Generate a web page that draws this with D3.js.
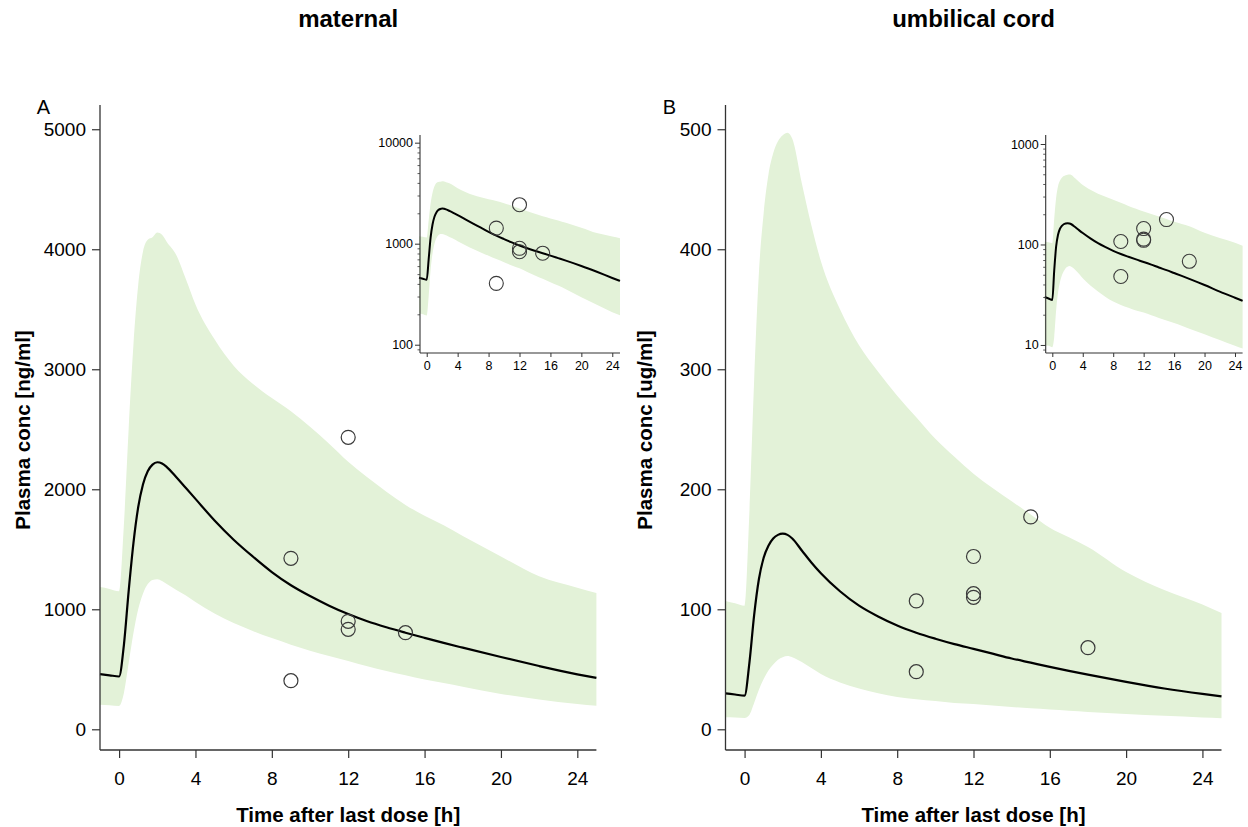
<!DOCTYPE html>
<html><head><meta charset="utf-8">
<script src="https://cdn.jsdelivr.net/npm/d3@7"></script>
<style>
body{margin:0;background:#fff;}
svg{display:block;font-family:"Liberation Sans",Arial,sans-serif;}
</style></head>
<body><svg id="c" width="1248" height="827"></svg>
<script>
// ---- data ----
const timeGrid = [-1,-0.5,0,0.25,0.5,0.75,1,1.25,1.5,1.75,2,2.25,2.5,3,3.5,4,5,6,7,8,9,10,11,12,13,14,15,16,17,18,20,22,24,25];

const medianA = [460,450,440,700,1150,1550,1850,2040,2150,2205,2225,2215,2185,2100,2010,1920,1740,1580,1440,1310,1200,1110,1030,960,900,850,805,762,720,680,602,527,458,428];
const lowerA  = [205,200,195,300,550,800,1000,1130,1210,1245,1250,1235,1210,1160,1115,1060,965,885,820,760,705,655,610,570,525,485,450,415,385,355,295,248,210,196];
const upperA  = [1185,1170,1150,1700,2500,3200,3700,3980,4080,4100,4140,4120,4060,3950,3750,3540,3250,3030,2880,2760,2650,2520,2380,2230,2100,1980,1870,1780,1700,1610,1440,1275,1180,1135];
const obsTimeA = [9,9,12,12,12,15];
const obsConcA = [1425,405,2433,900,833,805];

const medianB = [30,29,28,55,95,125,143,153,159,162,163,162,159,149,139,130,115,103,94,86.5,80.5,75.5,71,67,63,59,55.5,52,48.7,45.5,39.5,34,29.5,27.5];
const lowerB  = [10,9.8,9.5,12,22,33,42,49,54,58,60,61,60,56,51,46,39,34,30,27,25,23.5,22,21,19.8,18.6,17.5,16.5,15.5,14.5,12.8,11.2,9.8,9.2];
const upperB  = [107,105,103,180,290,380,430,462,480,490,495,497,492,455,420,390,350,320,298,278,260,242,227,213,201,190,179,168,160,152,131,116,104,97];
const obsTimeB = [9,9,12,12,12,15,18];
const obsConcB = [107,48,144,113,110,177,68];

const xTicks = [0,4,8,12,16,20,24];
const yTicksA = [0,1000,2000,3000,4000,5000];
const yTicksB = [0,100,200,300,400,500];
const logTicksA = [100,1000,10000];
const logTicksB = [10,100,1000];
const titles = ["maternal","umbilical cord"];
const panelLetters = ["A","B"];
const yLabels = ["Plasma conc [ng/ml]","Plasma conc [ug/ml]"];
const xLabel = "Time after last dose [h]";

// ---- drawing ----
const svg = d3.select("#c");
const GREEN = "#e3f2d8";
const AX = "#333";

function panel(cfg){
  const g = svg.append("g");
  const x = d3.scaleLinear().domain([-1,25]).range([cfg.x0,cfg.x1]);
  const y = d3.scaleLinear().domain(cfg.yDom).range([750,105]);
  const pts = timeGrid.map((t,i)=>({t, m:cfg.med[i], lo:cfg.lo[i], hi:cfg.hi[i]}));
  g.append("path").datum(pts).attr("fill",GREEN)
    .attr("d", d3.area().x(d=>x(d.t)).y0(d=>y(d.lo)).y1(d=>y(d.hi)).curve(d3.curveMonotoneX));
  g.append("path").datum(pts).attr("fill","none").attr("stroke","#000").attr("stroke-width",2.2)
    .attr("d", d3.line().x(d=>x(d.t)).y(d=>y(d.m)).curve(d3.curveMonotoneX));
  g.selectAll("circle.o").data(cfg.obsT.map((t,i)=>({t,v:cfg.obsV[i]}))).join("circle")
    .attr("cx",d=>x(d.t)).attr("cy",d=>y(d.v)).attr("r",7)
    .attr("fill","none").attr("stroke","#3a3a3a").attr("stroke-width",1.2);
  // axes
  const xa = g.append("g").attr("transform","translate(0,750)")
    .call(d3.axisBottom(x).tickValues(xTicks).tickSize(8).tickPadding(14).tickFormat(d3.format("d")));
  const ya = g.append("g").attr("transform",`translate(${cfg.x0},0)`)
    .call(d3.axisLeft(y).tickValues(cfg.yTicks).tickSize(8).tickPadding(6).tickFormat(d3.format("d")));
  [xa,ya].forEach(a=>{
    a.select(".domain").attr("stroke",AX).attr("stroke-width",1.3).attr("d", null);
    a.selectAll(".tick line").attr("stroke",AX).attr("stroke-width",1.2);
    a.selectAll(".tick text").attr("fill","#000").style("font-size","19px");
  });
  xa.select(".domain").attr("d",`M${cfg.x0},0H${cfg.x1}`);
  ya.select(".domain").attr("d",`M0,105V750`);
  // texts
  svg.append("text").attr("x",(cfg.x0+cfg.x1)/2).attr("y",27).attr("text-anchor","middle")
    .style("font-size","24px").style("font-weight","bold").text(cfg.title);
  svg.append("text").attr("x",(cfg.x0+cfg.x1)/2).attr("y",822).attr("text-anchor","middle")
    .style("font-size","20.5px").style("font-weight","bold").text(xLabel);
  svg.append("text").attr("transform",`translate(${cfg.ylx},430) rotate(-90)`).attr("text-anchor","middle")
    .style("font-size","20.5px").style("font-weight","bold").text(cfg.ylabel);
  svg.append("text").attr("x",cfg.letterX).attr("y",114).style("font-size","20px").text(cfg.letter);

  // inset
  const ig = svg.append("g");
  const ix = d3.scaleLinear().domain([-1,25]).range([cfg.ix0,cfg.ix1]);
  const iy = d3.scaleLog().domain(cfg.iyDom).range([353,135]);
  ig.append("path").datum(pts).attr("fill",GREEN)
    .attr("d", d3.area().x(d=>ix(d.t)).y0(d=>iy(d.lo)).y1(d=>iy(d.hi)).curve(d3.curveMonotoneX));
  ig.append("path").datum(pts).attr("fill","none").attr("stroke","#000").attr("stroke-width",2)
    .attr("d", d3.line().x(d=>ix(d.t)).y(d=>iy(d.m)).curve(d3.curveMonotoneX));
  ig.selectAll("circle").data(cfg.obsT.map((t,i)=>({t,v:cfg.obsV[i]}))).join("circle")
    .attr("cx",d=>ix(d.t)).attr("cy",d=>iy(d.v)).attr("r",7)
    .attr("fill","none").attr("stroke","#3a3a3a").attr("stroke-width",1.1);
  const ixa = ig.append("g").attr("transform","translate(0,353)")
    .call(d3.axisBottom(ix).tickValues(xTicks).tickSize(4).tickPadding(4).tickFormat(d3.format("d")));
  const minor = [];
  const [lo,hi] = cfg.iyDom;
  for(let p=Math.floor(Math.log10(lo)); p<=Math.ceil(Math.log10(hi)); p++){
    for(let k=2;k<=9;k++){ const v=k*Math.pow(10,p); if(v>=lo && v<=hi) minor.push(v); }
  }
  const iyaMinor = ig.append("g").attr("transform",`translate(${cfg.ix0+1},0)`)
    .call(d3.axisLeft(iy).tickValues(minor).tickSize(2.5).tickFormat(""));
  iyaMinor.select(".domain").remove();
  iyaMinor.selectAll(".tick line").attr("stroke",AX).attr("stroke-width",0.8);
  const iya = ig.append("g").attr("transform",`translate(${cfg.ix0+1},0)`)
    .call(d3.axisLeft(iy).tickValues(cfg.logTicks).tickSize(5).tickPadding(2).tickFormat(d3.format("d")));
  [ixa,iya].forEach(a=>{
    a.select(".domain").attr("stroke",AX).attr("stroke-width",1.1);
    a.selectAll(".tick line").attr("stroke",AX).attr("stroke-width",1);
    a.selectAll(".tick text").attr("fill","#000").style("font-size","12.5px");
  });
  ixa.select(".domain").attr("d",`M${cfg.ix0+1},0H${cfg.ix1}`);
  iya.select(".domain").attr("d",`M0,135V353`);
}

panel({x0:100,x1:596.4,yDom:[-172.5,5202],med:medianA,lo:lowerA,hi:upperA,obsT:obsTimeA,obsV:obsConcA,
  yTicks:yTicksA,title:titles[0],ylabel:yLabels[0],letter:panelLetters[0],ylx:29.5,letterX:36.7,
  ix0:419,ix1:620,iyDom:[Math.pow(10,1.918),Math.pow(10,4.076)],logTicks:logTicksA});
panel({x0:725.5,x1:1221.5,yDom:[-17.25,520.2],med:medianB,lo:lowerB,hi:upperB,obsT:obsTimeB,obsV:obsConcB,
  yTicks:yTicksB,title:titles[1],ylabel:yLabels[1],letter:panelLetters[1],ylx:652,letterX:662.7,
  ix0:1044.7,ix1:1242.6,iyDom:[Math.pow(10,0.92),Math.pow(10,3.0896)],logTicks:logTicksB});
</script></body></html>
